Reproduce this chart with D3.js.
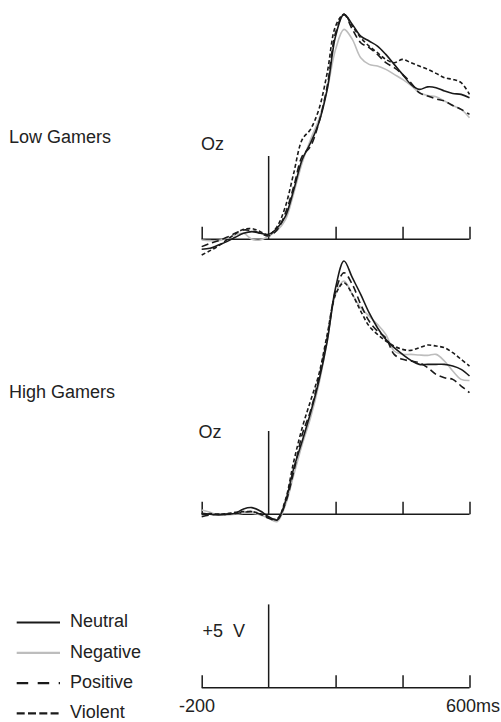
<!DOCTYPE html>
<html>
<head>
<meta charset="utf-8">
<script src="https://cdn.jsdelivr.net/npm/d3@7/dist/d3.min.js"></script>
<style>
  html, body { margin: 0; padding: 0; background: #fff; }
  svg { display: block; }
  text { font-family: "Liberation Sans", Arial, Helvetica, sans-serif; font-size: 18px; fill: #222; }
</style>
</head>
<body>
<svg id="chart" width="501" height="722"></svg>
<script>
// ---- data (µV), time in ms ----
const times = d3.range(-200, 601, 25);
const conditions = ["Neutral", "Negative", "Positive", "Violent"];
const groups = ["Low Gamers", "High Gamers"];
const electrode = "Oz";
const xTickValues = [-200, 0, 200, 400, 600];
const xEndLabels = ["-200", "600ms"];
const scaleLabel = "+5  V";

const lowNeutral  = [-0.6,-0.54,-0.34,-0.14,0.12,0.36,0.46,0.36,0.3,0.66,1.37,2.97,4.78,5.78,7.0,9.0,12.2,13.5,12.9,12.2,11.9,11.6,11.1,10.5,9.9,9.3,9.0,9.15,9.1,8.9,8.75,8.7,8.5];
const lowNegative = [-0.04,-0.08,-0.08,0.06,0.26,0.36,0,-0.04,0.2,0.52,1.16,2.77,4.58,5.98,7.2,9.0,11.4,12.6,12.0,10.9,10.5,10.4,10.2,9.9,9.6,9.24,8.8,8.63,8.55,8.3,8.03,7.8,7.3];
const lowPositive = [-0.44,-0.24,-0.08,0.12,0.36,0.56,0.52,0.36,0.2,0.56,1.57,3.17,4.98,5.58,7.0,9.2,12.4,13.5,12.6,11.8,11.5,11.1,10.6,10.3,9.9,9.4,8.8,8.6,8.43,8.3,8.03,7.8,7.5];
const lowViolent  = [-0.94,-0.68,-0.4,-0.04,0.32,0.6,0.64,0.46,0.26,0.76,1.97,3.98,5.98,6.6,7.8,10.0,12.8,13.5,12.8,12.1,11.6,11.2,10.8,10.6,10.8,10.6,10.4,10.2,9.96,9.7,9.6,9.4,8.7];

const highNeutral  = [0.06,0,-0.04,0,0.06,0.32,0.4,0.2,-0.14,-0.34,0.76,2.77,4.38,6.08,8.0,10.4,13.6,15.2,14.2,13.2,12.1,11.2,10.5,10.0,9.6,9.24,9.0,9.0,9.0,9.0,8.9,8.7,8.3];
const highNegative = [0.26,0.12,-0.04,-0.04,0,0.06,0.06,-0.04,-0.24,-0.44,0.56,2.37,4.18,5.78,7.8,10.4,13.2,14.0,13.2,12.4,11.9,11.4,10.8,9.8,9.6,9.6,9.56,9.54,9.6,9.2,8.6,8.1,8.03];
const highPositive = [-0.14,-0.04,0,0,0.04,0.12,0.16,0,-0.24,-0.34,0.66,2.57,4.78,6.2,8.2,10.6,13.4,14.5,13.8,12.6,11.6,11.0,10.6,9.6,9.3,9.2,9.1,8.8,8.4,8.2,8.1,7.7,7.3];
const highViolent  = [0,0.04,0,0.04,0.12,0.16,0.16,0.04,-0.2,-0.28,0.86,3.17,5.18,6.8,8.4,10.8,13.2,13.9,13.2,12.2,11.3,10.8,10.4,10.1,9.9,9.84,10.0,10.16,10.1,10.0,9.7,9.3,8.9];

const panelData = [
  [lowNeutral, lowNegative, lowPositive, lowViolent],
  [highNeutral, highNegative, highPositive, highViolent]
];

// ---- styles ----
const styles = {
  Neutral:  { color: "#1a1a1a", dash: null,      legendDash: null },
  Negative: { color: "#bdbdbd", dash: null,      legendDash: null },
  Positive: { color: "#1a1a1a", dash: "7,4",     legendDash: "11.5,9.5" },
  Violent:  { color: "#1a1a1a", dash: "4,2.5",   legendDash: "8,3.3" }
};

const svg = d3.select("#chart");
const x = d3.scaleLinear().domain([-200, 600]).range([201.7, 469.5]);

function drawAxes(g, base) {
  const y = d3.scaleLinear().domain([0, 5]).range([base, base - 83.3]);
  const axis = d3.axisTop(x).tickValues(xTickValues).tickSize(12.5).tickSizeOuter(0).tickFormat("");
  const ag = g.append("g").attr("transform", `translate(0,${base})`).call(axis);
  ag.select(".domain").attr("stroke", "#1a1a1a").attr("stroke-width", 1.5)
    .attr("d", `M${x(-200)},0H${x(600)}`);
  ag.selectAll(".tick line").attr("stroke", "#1a1a1a").attr("stroke-width", 1.5);
  ag.selectAll(".tick").filter(d => d === 0).select("line").remove();
  const yAxis = d3.axisLeft(y).tickValues([]).tickSizeOuter(0);
  const vg = g.append("g").attr("transform", `translate(${x(0)},0)`).call(yAxis);
  vg.select(".domain").attr("stroke", "#1a1a1a").attr("stroke-width", 1.5)
    .attr("d", `M0,${y(0)}V${y(5)}`);
  return y;
}

const panels = [
  { base: 239.3, label: groups[0], labelY: 143, ozX: 201, ozY: 150 },
  { base: 514.3, label: groups[1], labelY: 398, ozX: 198.5, ozY: 437.7 }
];

panels.forEach((p, pi) => {
  const g = svg.append("g");
  const y = drawAxes(g, p.base);
  g.append("text").attr("x", 9).attr("y", p.labelY).text(p.label);
  g.append("text").attr("x", p.ozX).attr("y", p.ozY).text(electrode);
  const line = d3.line()
    .x((d, i) => x(times[i]))
    .y(d => y(d))
    .curve(d3.curveCatmullRom.alpha(0.5));
  const order = [1, 0, 2, 3];
  order.forEach(ci => {
    const c = conditions[ci];
    g.append("path")
      .datum(panelData[pi][ci])
      .attr("fill", "none")
      .attr("stroke", styles[c].color)
      .attr("stroke-width", 1.6)
      .attr("stroke-dasharray", styles[c].dash)
      .attr("stroke-linejoin", "round")
      .attr("d", line);
  });
});

// ---- scale panel ----
const sg = svg.append("g");
drawAxes(sg, 687.7);
sg.append("text").attr("x", 202.5).attr("y", 637.3).style("white-space", "pre").text(scaleLabel);
sg.append("text").attr("x", 215).attr("y", 712).attr("text-anchor", "end").text(xEndLabels[0]);
sg.append("text").attr("x", 500).attr("y", 712).attr("text-anchor", "end").text(xEndLabels[1]);

// ---- legend ----
const lg = svg.append("g");
conditions.forEach((c, i) => {
  const ly = 622.5 + i * 30.3;
  lg.append("line")
    .attr("x1", 16.7).attr("x2", 60).attr("y1", ly).attr("y2", ly)
    .attr("stroke", styles[c].color).attr("stroke-width", 2.2)
    .attr("stroke-dasharray", styles[c].legendDash);
  lg.append("text").attr("x", 70).attr("y", ly + 4.8).text(c);
});
</script>
</body>
</html>
